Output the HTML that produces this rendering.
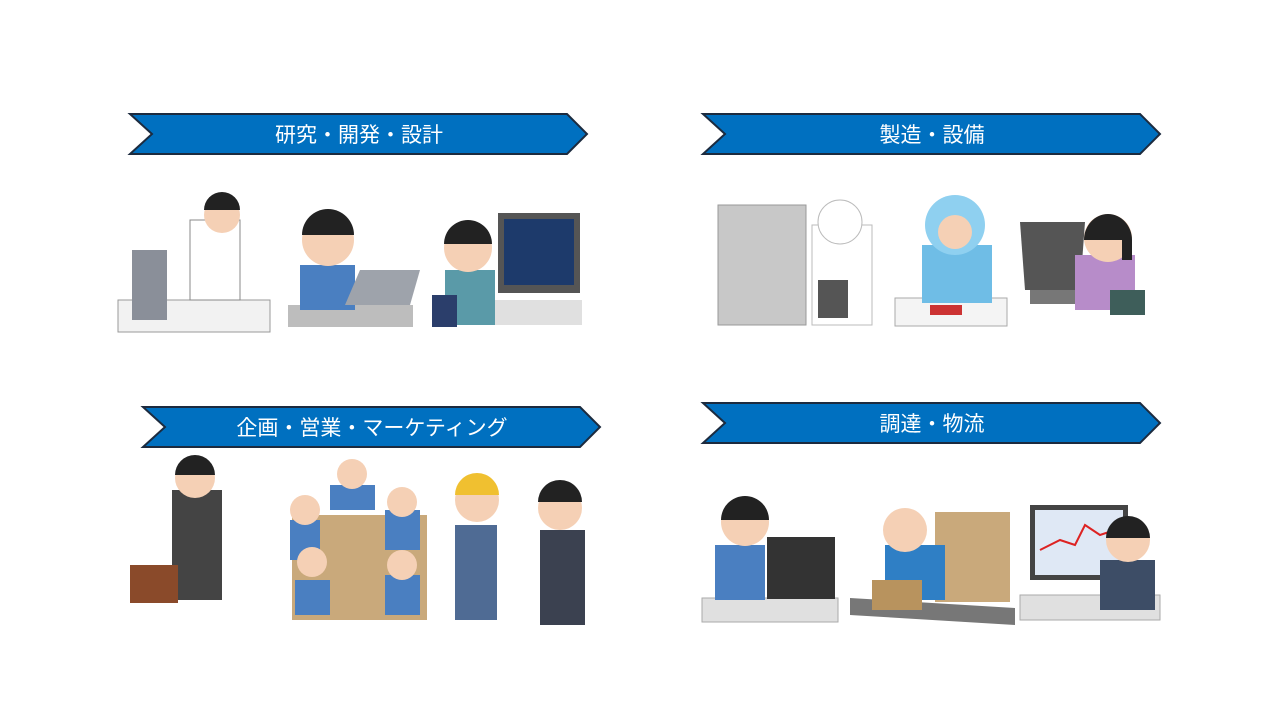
<!DOCTYPE html>
<html><head><meta charset="utf-8"><style>
html,body{margin:0;padding:0;background:#fff}
svg{display:block}
text{font-family:"Liberation Sans","Noto Sans CJK JP",sans-serif}
</style></head><body>
<svg width="1280" height="720" viewBox="0 0 1280 720" xmlns="http://www.w3.org/2000/svg">
<g stroke="#1c2b3f" stroke-width="2" fill="#0070c0">
<polygon points="130,114 567,114 587,134 567,154 130,154 152,134"/>
<polygon points="703,114 1140,114 1160,134 1140,154 703,154 725,134"/>
<polygon points="143,407 580,407 600,427 580,447 143,447 165,427"/>
<polygon points="703,403 1140,403 1160,423 1140,443 703,443 725,423"/>
</g>
<g fill="#fff" font-size="21" text-anchor="middle">
<text x="359" y="142">研究・開発・設計</text>
<text x="932" y="142">製造・設備</text>
<text x="372" y="435">企画・営業・マーケティング</text>
<text x="932" y="431">調達・物流</text>
</g>
<!-- Panel 1 illustrations -->
<g>
<rect x="118" y="300" width="152" height="32" fill="#f2f2f2" stroke="#999"/>
<rect x="132" y="250" width="35" height="70" fill="#8a8f99"/>
<rect x="190" y="220" width="50" height="80" fill="#fff" stroke="#888"/>
<circle cx="222" cy="215" r="18" fill="#f5d0b5"/>
<path d="M204 210 a18 18 0 0 1 36 0 z" fill="#222"/>
<rect x="288" y="305" width="125" height="22" fill="#bdbdbd"/>
<rect x="300" y="265" width="55" height="45" fill="#4a7fc1"/>
<circle cx="328" cy="240" r="26" fill="#f5d0b5"/>
<path d="M302 235 a26 26 0 0 1 52 0 z" fill="#222"/>
<polygon points="345,305 410,305 420,270 360,270" fill="#9ea3ab"/>
<rect x="498" y="213" width="82" height="80" fill="#555"/>
<rect x="504" y="219" width="70" height="66" fill="#1d3a6b"/>
<rect x="480" y="300" width="102" height="25" fill="#e0e0e0"/>
<rect x="445" y="270" width="50" height="55" fill="#5a9aa8"/>
<circle cx="468" cy="248" r="24" fill="#f5d0b5"/>
<path d="M444 244 a24 24 0 0 1 48 0 z" fill="#222"/>
<rect x="432" y="295" width="25" height="32" fill="#2b3e6b"/>
</g>
<!-- Panel 2 -->
<g>
<rect x="718" y="205" width="88" height="120" fill="#c8c8c8" stroke="#999"/>
<rect x="812" y="225" width="60" height="100" fill="#fff" stroke="#bbb"/>
<circle cx="840" cy="222" r="22" fill="#fff" stroke="#bbb"/>
<rect x="818" y="280" width="30" height="38" fill="#555"/>
<rect x="895" y="298" width="112" height="28" fill="#f4f4f4" stroke="#aaa"/>
<rect x="922" y="245" width="70" height="58" fill="#6fbde6"/>
<circle cx="955" cy="225" r="30" fill="#8fd0f0"/>
<circle cx="955" cy="232" r="17" fill="#f5d0b5"/>
<rect x="930" y="305" width="32" height="10" fill="#c33"/>
<polygon points="1020,222 1085,222 1080,290 1025,290" fill="#555"/>
<rect x="1030" y="290" width="70" height="14" fill="#777"/>
<rect x="1075" y="255" width="60" height="55" fill="#b78cc9"/>
<circle cx="1108" cy="238" r="24" fill="#f5d0b5"/>
<path d="M1084 240 a24 26 0 0 1 48 0 l0 20 l-10 0 l0-20 z" fill="#222"/>
<rect x="1110" y="290" width="35" height="25" fill="#3e5e5a"/>
</g>
<!-- Panel 3 -->
<g>
<rect x="172" y="490" width="50" height="110" fill="#444"/>
<circle cx="195" cy="478" r="20" fill="#f5d0b5"/>
<path d="M175 475 a20 20 0 0 1 40 0 z" fill="#222"/>
<rect x="130" y="565" width="48" height="38" fill="#8a4a2a"/>
<rect x="292" y="515" width="135" height="105" fill="#c9a97b"/>
<g fill="#4a7fc1"><rect x="330" y="485" width="45" height="25"/><rect x="385" y="510" width="35" height="40"/><rect x="290" y="520" width="30" height="40"/><rect x="295" y="580" width="35" height="35"/><rect x="385" y="575" width="35" height="40"/></g>
<g fill="#f5d0b5"><circle cx="352" cy="474" r="15"/><circle cx="305" cy="510" r="15"/><circle cx="402" cy="502" r="15"/><circle cx="312" cy="562" r="15"/><circle cx="402" cy="565" r="15"/></g>
<rect x="455" y="525" width="42" height="95" fill="#4f6b94"/>
<circle cx="477" cy="500" r="22" fill="#f5d0b5"/>
<path d="M455 495 a22 22 0 0 1 44 0 z" fill="#f0c030"/>
<rect x="540" y="530" width="45" height="95" fill="#3b4150"/>
<circle cx="560" cy="508" r="22" fill="#f5d0b5"/>
<path d="M538 502 a22 22 0 0 1 44 0 z" fill="#222"/>
</g>
<!-- Panel 4 -->
<g>
<rect x="702" y="598" width="136" height="24" fill="#e0e0e0" stroke="#aaa"/>
<rect x="767" y="537" width="68" height="62" fill="#333"/>
<rect x="715" y="545" width="50" height="55" fill="#4a7fc1"/>
<circle cx="745" cy="522" r="24" fill="#f5d0b5"/>
<path d="M721 520 a24 24 0 0 1 48 0 z" fill="#222"/>
<polygon points="850,598 1015,608 1015,625 850,615" fill="#777"/>
<rect x="935" y="512" width="75" height="90" fill="#c9a97b"/>
<rect x="885" y="545" width="60" height="55" fill="#2f7fc5"/>
<circle cx="905" cy="530" r="22" fill="#f5d0b5"/>
<rect x="872" y="580" width="50" height="30" fill="#b8935e"/>
<rect x="1030" y="505" width="98" height="75" fill="#444"/>
<rect x="1035" y="510" width="88" height="65" fill="#dfe8f5"/>
<polyline points="1040,550 1060,540 1075,545 1085,525 1100,535 1115,530" fill="none" stroke="#d22" stroke-width="2"/>
<rect x="1020" y="595" width="140" height="25" fill="#e0e0e0" stroke="#aaa"/>
<rect x="1100" y="560" width="55" height="50" fill="#3d4d66"/>
<circle cx="1128" cy="540" r="22" fill="#f5d0b5"/>
<path d="M1106 538 a22 22 0 0 1 44 0 z" fill="#222"/>
</g>
</svg>
</body></html>
